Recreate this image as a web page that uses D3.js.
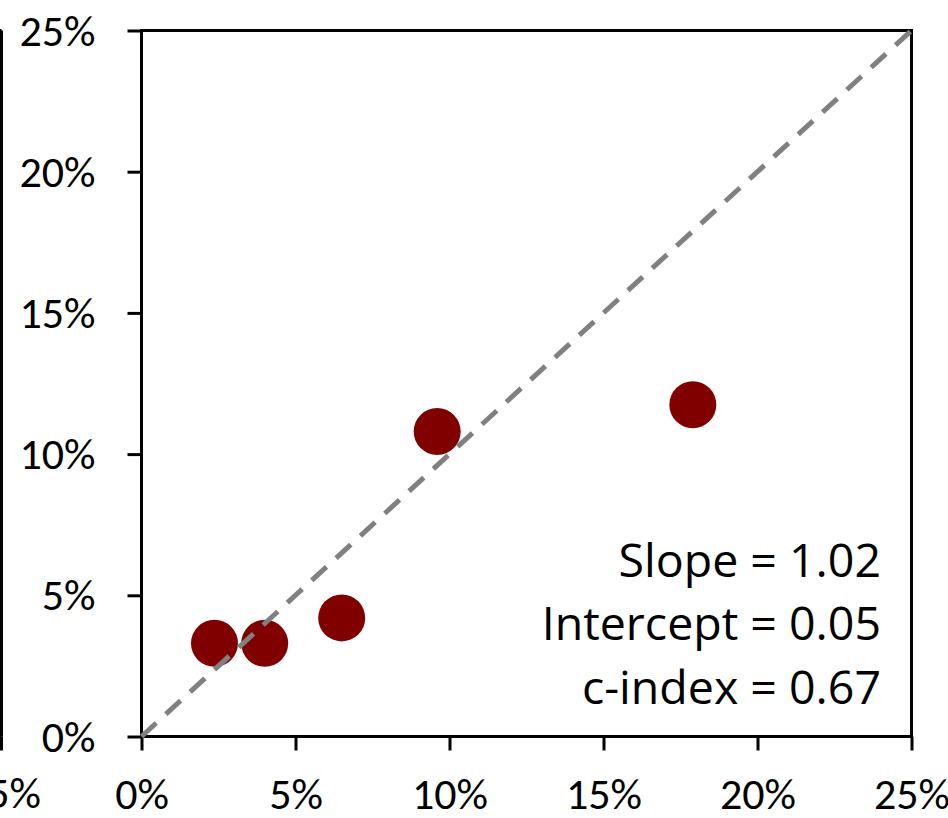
<!DOCTYPE html>
<html><head><meta charset="utf-8">
<script src="https://cdn.jsdelivr.net/npm/d3@7"></script>
<style>
html,body{margin:0;padding:0;background:#fff;overflow:hidden}
text{font-family:Carlito,Lato,"Open Sans",sans-serif;fill:#000}
</style></head>
<body><svg id="c" width="948" height="818"></svg>
<script>
// Data (percent)
const predicted = [2.37, 4.0, 6.5, 9.6, 17.9];
const observed  = [3.3, 3.3, 4.2, 10.8, 11.75];
const xTicks = [0, 5, 10, 15, 20, 25];
const yTicks = [0, 5, 10, 15, 20, 25];
const stats = ["Slope = 1.02", "Intercept = 0.05", "c-index = 0.67"];
const neighborTicks = [25];

const svg = d3.select("#c");
const L = 141.5, R = 911.5, T = 30.5, B = 736.5;
const x = d3.scaleLinear().domain([0, 25]).range([L, R]);
const y = d3.scaleLinear().domain([0, 25]).range([B, T]);
const fmt = d => d + "%";
const FS = 44;

// neighboring (cut-off) chart on the left
const nb = svg.append("g");
nb.append("path").attr("d", `M1.5,${T} V${B} M-20,${T} H1.5 M-20,${B} H1.5`)
  .attr("stroke", "#000").attr("stroke-width", 3).attr("fill", "none");
nb.append("line").attr("x1", 1.5).attr("x2", 1.5).attr("y1", B).attr("y2", B + 14)
  .attr("stroke", "#000").attr("stroke-width", 3);
nb.selectAll("text").data(neighborTicks).join("text")
  .attr("x", 3).attr("y", 808).attr("text-anchor", "middle")
  .attr("font-size", FS).text(fmt);

// axes
const xAxis = d3.axisBottom(x).tickValues(xTicks).tickFormat(fmt).tickSize(14).tickSizeOuter(0).tickPadding(26);
const yAxis = d3.axisLeft(y).tickValues(yTicks).tickFormat(fmt).tickSize(14).tickSizeOuter(0).tickPadding(32);
const gx = svg.append("g").attr("transform", `translate(0,${B})`).call(xAxis);
const gy = svg.append("g").attr("transform", `translate(${L},0)`).call(yAxis);
[gx, gy].forEach(g => {
  g.select(".domain").remove();
  g.selectAll(".tick line").attr("stroke", "#000").attr("stroke-width", 3);
  g.selectAll(".tick text").attr("font-size", FS).attr("fill", "#000")
    .style("font-family", "Carlito,Lato,'Open Sans',sans-serif");
});
gy.selectAll(".tick text").attr("dy", "0.33em");
gx.selectAll(".tick text").attr("dy", "32px");

// plot box
svg.append("rect").attr("x", L).attr("y", T).attr("width", R - L).attr("height", B - T)
  .attr("fill", "none").attr("stroke", "#000").attr("stroke-width", 3);

// points
const pts = predicted.map((p, i) => ({p, o: observed[i]}));
svg.append("g").selectAll("circle").data(pts).join("circle")
  .attr("cx", d => x(d.p)).attr("cy", d => y(d.o)).attr("r", 23.5)
  .attr("fill", "#800000");

// diagonal reference line
svg.append("line")
  .attr("x1", x(0)).attr("y1", y(0)).attr("x2", x(25)).attr("y2", y(25))
  .attr("stroke", "#808080").attr("stroke-width", 5)
  .attr("stroke-dasharray", "20,13");

// stats text
svg.append("g").selectAll("text").data(stats).join("text")
  .attr("x", 881).attr("y", (d, i) => 577 + i * 63.3)
  .attr("text-anchor", "end").attr("font-size", 46.5)
  .style("font-family", "'Open Sans',Lato,sans-serif")
  .text(d => d);
</script></body></html>
